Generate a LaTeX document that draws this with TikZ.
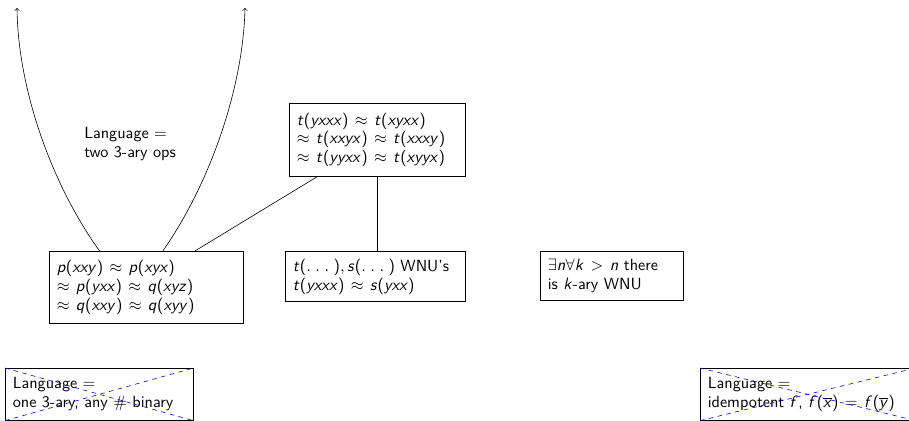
\documentclass[tikz,border=0pt]{standalone}
\usepackage{tikz}
\usetikzlibrary{calc}
\renewcommand{\familydefault}{\sfdefault}
% sans serif math: slanted cmss letters, upright cmss operators
\DeclareSymbolFont{sfletters}{OT1}{cmss}{m}{sl}
\SetSymbolFont{operators}{normal}{OT1}{cmss}{m}{n}
\DeclareMathSizes{10.8}{11.3}{8.5}{6.5}
\newcount\lettercode
\lettercode=`a
\loop
  \mathcode\lettercode=\numexpr "7000+\symsfletters*"100+\lettercode\relax
  \advance\lettercode by 1
\ifnum\lettercode<`\{ \repeat
\thickmuskip=7mu
\newcommand{\dotsarg}{.\mskip5mu.\mskip5mu.\mskip5mu}
\tikzset{every node/.style={font=\fontsize{10.8pt}{12.6pt}\selectfont}}
\tikzset{box/.style={draw, align=left, inner sep=5pt, anchor=north west}}
\tikzset{nobox/.style={draw=blue, dashed}}

\begin{document}
\begin{tikzpicture}[x=0.6667pt,y=-0.6667pt]
\useasboundingbox (0,0) rectangle (909,420);
\clip (0,0) rectangle (909,420);
{
\node[box, text width=119.3pt, minimum height=48pt] (p) at (49,251)
  {$p(xxy) \approx p(xyx)$\\ $\approx p(yxx) \approx q(xyz)$\\ $\approx q(xxy) \approx q(xyy)$};
\node[box, text width=107.3pt, minimum height=48.7pt] (t) at (289,103)
  {$t(yxxx) \approx t(xyxx)$\\ $\approx t(xxyx) \approx t(xxxy)$\\ $\approx t(yyxx) \approx t(xyyx)$};
\node[box, text width=110pt, minimum height=32.7pt] (wnu) at (285,251)
  {$t(\dotsarg), s(\dotsarg)$ WNU's\\ $t(yxxx) \approx s(yxx)$};
\node[box, text width=85.3pt, minimum height=32.7pt] (kary) at (540,251)
  {$\exists n \forall k > n$ there\\ is $k$-ary WNU};
\node[anchor=west, align=left, inner sep=0pt] (lang) at (84,144)
  {Language $=$\\ two 3-ary ops};
}

% the two arrows leaving the p,q box
\coordinate (lend) at (17,8);
\coordinate (rend) at (245,8);
\draw[->] ($(p.north west)!0.26!(p.north east)$) .. controls (52,185) and (18,90) .. (lend);
\draw[->] ($(p.north west)!0.585!(p.north east)$) .. controls (209,185) and (243,90) .. (rend);

\draw ($(p.north west)!0.75!(p.north east)$) -- ($(t.south west)!0.16!(t.south east)$);
\draw (t.south) -- (t.south |- wnu.north);

% crossed out languages
\node[box, text width=115.3pt, minimum height=34.7pt] (bin) at (5,368)
  {Language $=$\\ one 3-ary, any $\#$ binary};
\draw[nobox] (bin.north west) -- (bin.south east);
\draw[nobox] (bin.south west) -- (bin.north east);
\node[box, text width=133.3pt, minimum height=34.7pt] (idem) at (700,368)
  {Language $=$\\ idempotent $f$, $f(\overline{x}) = f(\overline{y})$};
\draw[nobox] (idem.north west) -- (idem.south east);
\draw[nobox] (idem.south west) -- (idem.north east);
\end{tikzpicture}
\end{document}
